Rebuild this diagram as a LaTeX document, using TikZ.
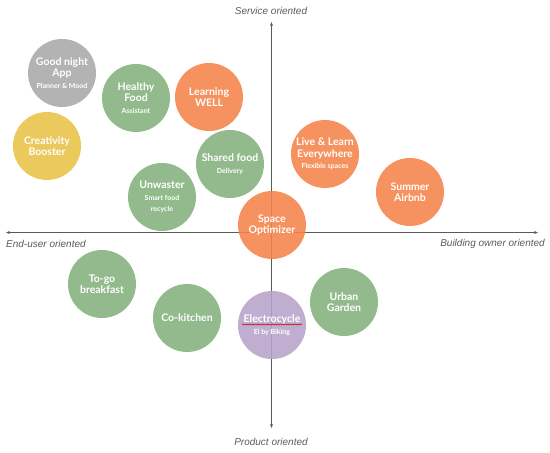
\documentclass[tikz,border=0pt]{standalone}
\usepackage{fontspec}
\setmainfont{Lato}
\newfontfamily\axisfont{Liberation Sans}
\usetikzlibrary{arrows.meta,decorations.pathmorphing}
\definecolor{cgreen}{HTML}{83B07D}
\definecolor{corange}{HTML}{F5834A}
\definecolor{cgrey}{HTML}{A8A8A8}
\definecolor{cyellow}{HTML}{E9C246}
\definecolor{cpurple}{HTML}{B7A3CB}
\definecolor{caxis}{HTML}{5A5A5A}
\tikzset{
  idea/.style={circle,minimum size=68pt,inner sep=0pt,text=white,align=center,
    fill opacity=0.88,text opacity=1,
    font=\bfseries\fontsize{10.5}{11.5}\selectfont},
  axislabel/.style={font=\axisfont\itshape\fontsize{10}{11}\selectfont,text=caxis,inner sep=0pt},
  axisline/.style={draw=caxis,line width=0.6pt,-{Stealth[length=4pt,width=3pt]}},
}
\newcommand{\subtxt}[1]{{\fontsize{7}{8.5}\selectfont #1}}
\begin{document}
\begin{tikzpicture}[x=1pt,y=-1pt]
\useasboundingbox (0,0) rectangle (550,453);
% axes
\coordinate (vtop) at (271.5,22);
\coordinate (vbot) at (271.5,428);
\coordinate (hleft) at (6,232.5);
\coordinate (hright) at (538,232.5);
\coordinate (vmid) at (271.5,232.5);
\draw[axisline] (vmid) -- (vtop);
\draw[axisline] (vmid) -- (vbot);
\draw[axisline] (vmid) -- (hleft);
\draw[axisline] (vmid) -- (hright);
\node[axislabel] (lserv) at (271,11) {Service oriented};
\node[axislabel] (lprod) at (271,442) {Product oriented};
\node[axislabel,anchor=west] (lend) at (6,243.5) {End-user oriented};
\node[axislabel,anchor=east] (lbuild) at (545,243.5) {Building owner oriented};
% ideas
\node[idea,fill=cgrey] (good) at (62,73) {Good night\\App\\\subtxt{Planner \& Mood}};
\node[idea,fill=cgreen] (healthy) at (136,98) {Healthy\\Food\\\subtxt{Assistant}};
\node[idea,fill=corange] (learning) at (209,97) {Learning\\WELL};
\node[idea,fill=cyellow] (creat) at (47,146) {Creativity\\Booster};
\node[idea,fill=cgreen] (shared) at (230,164) {Shared food\\\subtxt{Delivery}};
\node[idea,fill=cgreen] (unwaster) at (162,197) {Unwaster\\\subtxt{Smart food}\\\subtxt{recycle}};
\node[idea,fill=corange] (live) at (325,154) {Live \& Learn\\Everywhere\\\subtxt{Flexible spaces}};
\node[idea,fill=corange] (summer) at (410,192) {Summer\\Airbnb};
\node[idea,fill=corange] (space) at (272,225) {Space\\Optimizer};
\node[idea,fill=cgreen] (togo) at (102,284) {To-go\\breakfast};
\node[idea,fill=cgreen] (cokitchen) at (187,318) {Co-kitchen};
\node[idea,fill=cpurple] (electro) at (272,325) {Electrocycle\\\subtxt{El by Biking}};
\node[idea,fill=cgreen] (urban) at (344,302) {Urban\\Garden};
\draw[red!80!black,line width=0.5pt,decorate,decoration={snake,amplitude=0.6pt,segment length=2.5pt}]
  ([xshift=-30pt,yshift=0.5pt]electro.center) -- ([xshift=30pt,yshift=0.5pt]electro.center);
\end{tikzpicture}
\end{document}
